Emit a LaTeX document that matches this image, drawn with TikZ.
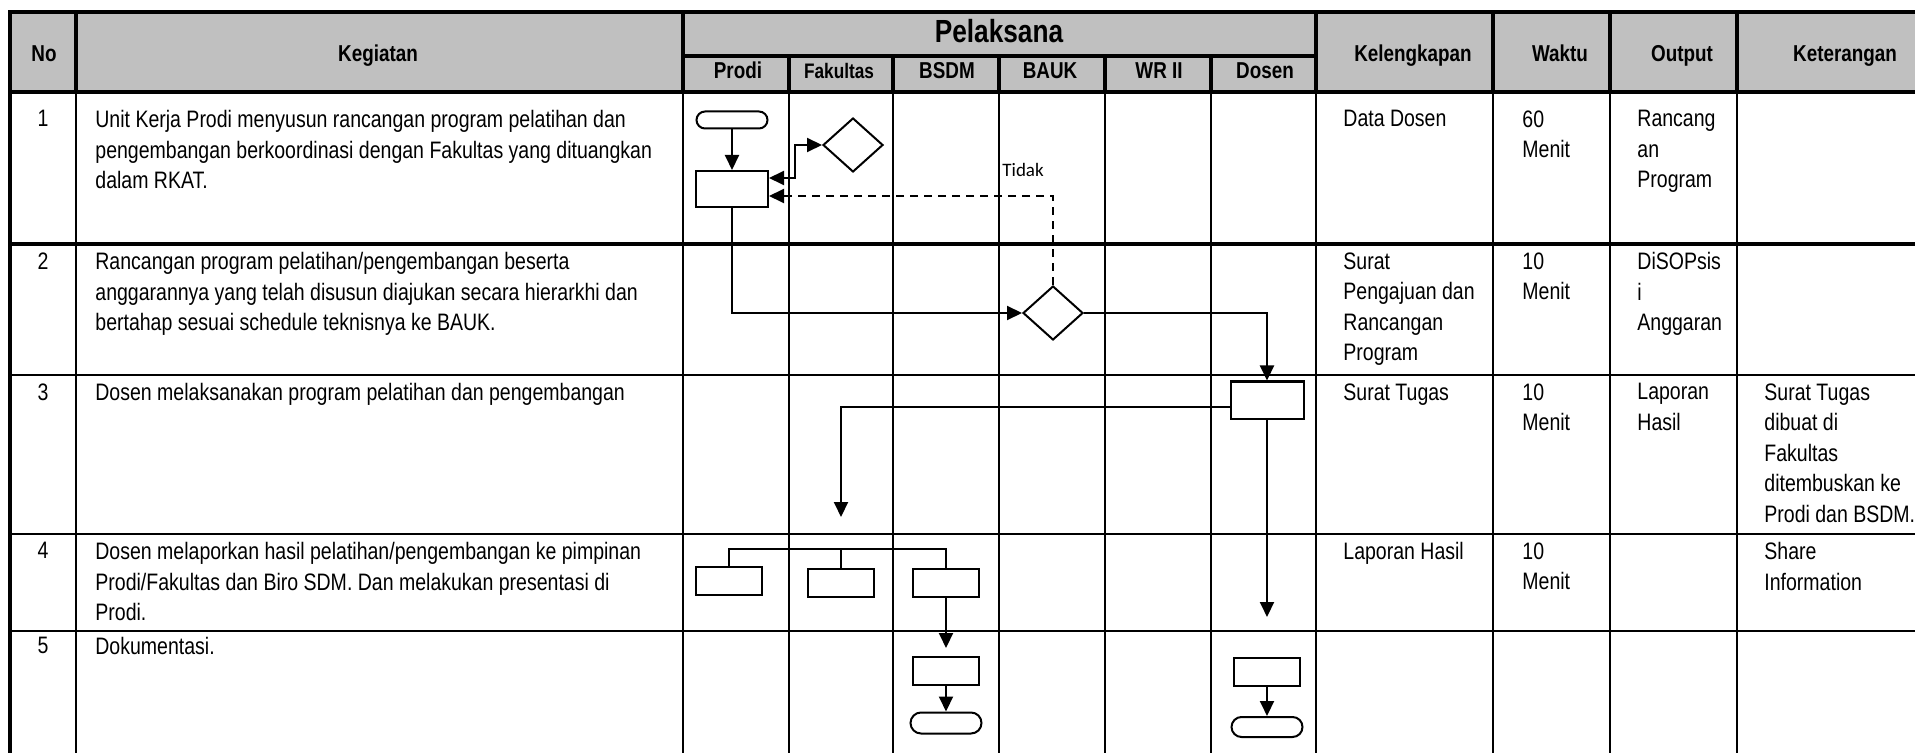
\documentclass[tikz,border=0pt]{standalone}
\usepackage{fontspec}
\setmainfont{Liberation Sans}[FakeStretch=0.82]
\newfontfamily\calibri{Carlito}
\usetikzlibrary{positioning,arrows.meta,shapes.geometric,shapes.misc}
\definecolor{hdgray}{RGB}{192,192,192}

\begin{document}
\begin{tikzpicture}[x=0.5pt,y=-0.5pt,
    grid/.style={line width=1pt},
    gridb/.style={line width=1.7pt},
    box/.style={draw,line width=1pt,minimum width=33pt,minimum height=14pt,inner sep=0pt},
    term/.style={draw,rounded rectangle,line width=1pt,minimum width=35.5pt,minimum height=10pt,inner sep=0pt},
    dec/.style={draw,diamond,line width=1pt,minimum width=30pt,minimum height=27pt,inner sep=0pt},
    tip/.style={-{Triangle[length=7.5pt,width=7pt]}},
    flow/.style={line width=1pt,tip},
    txt/.style={anchor=north west,inner sep=0pt,align=left,font=\fontsize{11.9}{15.3}\selectfont},
    num/.style={anchor=north,inner sep=0pt,font=\fontsize{11.9}{15.3}\selectfont},
    hd/.style={anchor=base,inner sep=0pt,font=\bfseries\fontsize{11.5}{13}\selectfont}]
  \useasboundingbox (0,0) rectangle (1915,753);

  % header and grid
  \fill[hdgray] (10,12) rectangle (1915,92);
  \draw[gridb] (10,753) -- (10,12) -- (1915,12);
  \draw[gridb] (10,92) -- (1915,92);
  \draw[gridb] (683,56) -- (1316,56);
  \foreach \x in {76,683,1316,1493,1610,1737} \draw[gridb] (\x,12) -- (\x,92);
  \foreach \x in {789,893,999,1105,1211} \draw[gridb] (\x,56) -- (\x,92);
  \foreach \x in {76,683,789,893,999,1105,1211,1316,1493,1610,1737} \draw[grid] (\x,92) -- (\x,753);
  \draw[gridb] (10,244) -- (1915,244);
  \foreach \y in {375,534,631} \draw[grid] (10,\y) -- (1915,\y);

  \node[hd] (hno) at (44,62) {No};
  \node[hd] (hkeg) at (378,62) {Kegiatan};
  \node[hd,font=\bfseries\fontsize{16}{18}\selectfont] (hpel) at (999,43) {Pelaksana};
  \node[hd] (hprodi) at (738,79) {Prodi};
  \node[hd,font=\bfseries\fontsize{10.5}{12}\selectfont] (hfak) at (839,79) {Fakultas};
  \node[hd] (hbsdm) at (947,79) {BSDM};
  \node[hd] (hbauk) at (1050,79) {BAUK};
  \node[hd] (hwr) at (1159,79) {WR II};
  \node[hd] (hdosen) at (1265,79) {Dosen};
  \node[hd] (hkel) at (1413,62) {Kelengkapan};
  \node[hd] (hwaktu) at (1560,62) {Waktu};
  \node[hd] (hout) at (1682,62) {Output};
  \node[hd] (hket) at (1845,62) {Keterangan};

  % rows
  \node[num] (n1) at (43,110) {1};
  \node[num] (n2) at (43,252) {2};
  \node[num] (n3) at (43,383) {3};
  \node[num] (n4) at (43,542) {4};
  \node[num] (n5) at (43,637) {5};

  \node[txt] (k1) at (95,110) {Unit Kerja Prodi menyusun rancangan program pelatihan dan\\pengembangan berkoordinasi dengan Fakultas yang dituangkan\\dalam RKAT.};
  \node[txt] (k2) at (95,252) {Rancangan program pelatihan/pengembangan beserta\\anggarannya yang telah disusun diajukan secara hierarkhi dan\\bertahap sesuai schedule teknisnya ke BAUK.};
  \node[txt] (k3) at (95,383) {Dosen melaksanakan program pelatihan dan pengembangan};
  \node[txt] (k4) at (95,542) {Dosen melaporkan hasil pelatihan/pengembangan ke pimpinan\\Prodi/Fakultas dan Biro SDM. Dan melakukan presentasi di\\Prodi.};
  \node[txt] (k5) at (95,637) {Dokumentasi.};

  \node[txt] (l1) at (1343,110) {Data Dosen};
  \node[txt] (l2) at (1343,252) {Surat\\Pengajuan dan\\Rancangan\\Program};
  \node[txt] (l3) at (1343,383) {Surat Tugas};
  \node[txt] (l4) at (1343,542) {Laporan Hasil};

  \node[txt] (w1) at (1522,110) {60\\Menit};
  \node[txt] (w2) at (1522,252) {10\\Menit};
  \node[txt] (w3) at (1522,383) {10\\Menit};
  \node[txt] (w4) at (1522,542) {10\\Menit};

  \node[txt] (o1) at (1637,110) {Rancang\\an\\Program};
  \node[txt] (o2) at (1637,252) {DiSOPsis\\i\\Anggaran};
  \node[txt] (o3) at (1637,383) {Laporan\\Hasil};

  \node[txt] (e3) at (1764,383) {Surat Tugas\\dibuat di\\Fakultas\\ditembuskan ke\\Prodi dan BSDM.};
  \node[txt] (e4) at (1764,542) {Share\\Information};

  % flow
  \node[term,minimum height=8.5pt] (t1) at (732,120) {};
  \node[box,minimum width=36pt,minimum height=18pt] (r1) at (732,189) {};
  \node[dec] (d1) at (853,145) {};
  \node[dec] (d2) at (1053,313) {};
  \node[box,minimum width=36.5pt,minimum height=18.5pt] (r2) at (1267,400) {};
  \node[box] (ra) at (729,581) {};
  \node[box] (rb) at (841,583) {};
  \node[box] (rc) at (946,583) {};
  \node[box] (rd) at (946,671) {};
  \node[term,minimum height=10.5pt] (te) at (946,723) {};
  \node[box] (rf) at (1267,672) {};
  \node[term] (tf) at (1267,727) {};
  \coordinate (c3) at (841,517);
  \coordinate (c4) at (1267,617);
  \coordinate (bar) at (0,549);
  \node[font=\calibri\fontsize{9.5}{11}\selectfont,anchor=base west,inner sep=0pt] (tidak) at (1002,177) {Tidak};

  \draw[flow] (t1) -- (r1);
  \draw[line width=1pt,{Triangle[length=7.5pt,width=7pt]}-{Triangle[length=7.5pt,width=7pt]}] ([yshift=5.5pt]r1.east) -- ++(26,0) |- (d1.west);
  \draw[flow,dash pattern=on 4pt off 3pt] (d2.north) |- ([yshift=-3.5pt]r1.east);
  \draw[flow] (r1.south) |- (d2.west);
  \draw[flow] (d2.east) -| (r2.north);
  \draw[flow] ([yshift=-3.5pt]r2.west) -| (c3);
  \draw[flow] (r2.south) -- (c4);
  \draw[line width=1pt] (ra.north) |- (rc.north |- bar) -- (rc.north);
  \draw[line width=1pt] (rb.north) -- (rb.north |- bar);
  \draw[flow,shorten >=4pt] (rc) -- (rd);
  \draw[flow] (rd) -- (te);
  \draw[flow] (rf) -- (tf);
\end{tikzpicture}
\end{document}
